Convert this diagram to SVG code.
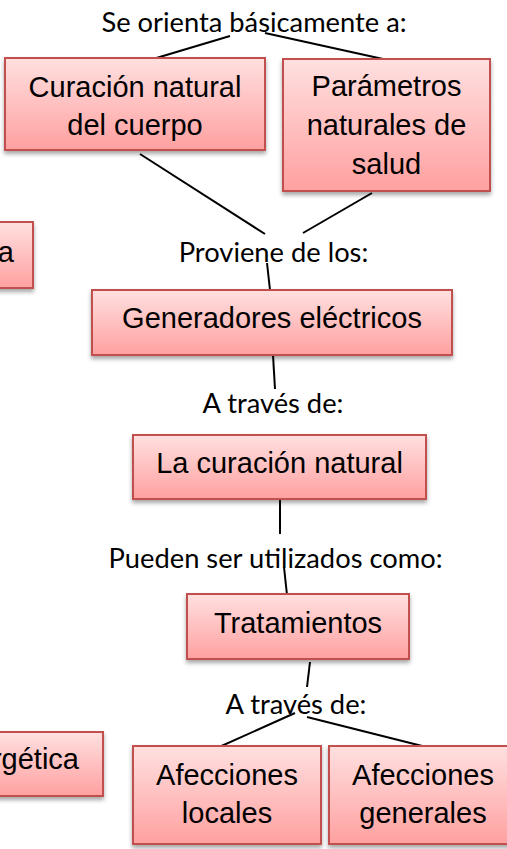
<svg xmlns="http://www.w3.org/2000/svg" width="507" height="849" viewBox="0 0 507 849">
<defs>
<linearGradient id="g" x1="0" y1="0" x2="0" y2="1">
<stop offset="0" stop-color="#FFE0E0"/>
<stop offset="1" stop-color="#FFA0A0"/>
</linearGradient>
<filter id="sh" x="-10%" y="-10%" width="120%" height="130%">
<feDropShadow dx="0" dy="3" stdDeviation="2" flood-color="#000" flood-opacity="0.35"/>
</filter>
</defs>
<style>
.box{fill:url(#g);stroke:#C0504D;stroke-width:2;filter:url(#sh)}
.bt{font-family:"Liberation Sans",Arial,sans-serif;font-size:29px;fill:#000;text-anchor:middle}
.lb{font-family:Lato,"Open Sans",sans-serif;font-size:27.3px;fill:#000;text-anchor:middle}
.cn line{stroke:#000;stroke-width:2}
</style>
<rect width="507" height="849" fill="#fff"/>
<g class="cn" id="connectors">
<line x1="230" y1="36" x2="153" y2="59"/>
<line x1="265" y1="33" x2="383" y2="59"/>
<line x1="140" y1="154" x2="265" y2="234"/>
<line x1="372" y1="193" x2="303" y2="233"/>
<line x1="267" y1="263" x2="270" y2="290"/>
<line x1="273" y1="355" x2="275" y2="389"/>
<line x1="280" y1="498" x2="280" y2="534"/>
<line x1="284" y1="567" x2="287" y2="595"/>
<line x1="310" y1="662" x2="307" y2="687"/>
<line x1="295" y1="713" x2="208" y2="752"/>
<line x1="307" y1="717" x2="442" y2="751"/>
</g>
<g id="lbl1"><text class="lb" x="254" y="32">Se orienta básicamente a:</text></g>
<g id="n1"><rect class="box" x="5" y="58" width="260" height="92"/>
<text class="bt" x="135" y="97">Curación natural</text><text class="bt" x="135" y="135">del cuerpo</text></g>
<g id="n2"><rect class="box" x="283" y="59" width="207" height="132"/>
<text class="bt" x="386.5" y="96">Parámetros</text><text class="bt" x="386.5" y="135">naturales de</text><text class="bt" x="386.5" y="174">salud</text></g>
<g id="n3"><rect class="box" x="-20" y="222" width="53" height="66"/>
<text class="bt" x="14" y="262" style="text-anchor:end">a</text></g>
<g id="lbl2"><text class="lb" x="273.5" y="262">Proviene de los:</text></g>
<g id="n4"><rect class="box" x="92" y="290" width="360" height="65"/>
<text class="bt" x="272" y="328">Generadores eléctricos</text></g>
<g id="lbl3"><text class="lb" x="273" y="413">A través de:</text></g>
<g id="n5"><rect class="box" x="133" y="435" width="293" height="64"/>
<text class="bt" x="279.5" y="473">La curación natural</text></g>
<g id="lbl4"><text class="lb" x="275.5" y="568">Pueden ser utilizados como:</text></g>
<g id="n6"><rect class="box" x="187" y="594" width="222" height="65"/>
<text class="bt" x="298" y="633">Tratamientos</text></g>
<g id="lbl5"><text class="lb" x="296" y="714">A través de:</text></g>
<g id="n7"><rect class="box" x="-20" y="732" width="123" height="64"/>
<text class="bt" x="79" y="769" style="text-anchor:end">rgética</text></g>
<g id="n8"><rect class="box" x="133" y="746" width="188" height="98"/>
<text class="bt" x="227" y="785">Afecciones</text><text class="bt" x="227" y="823">locales</text></g>
<g id="n9"><rect class="box" x="329" y="746" width="190" height="98"/>
<text class="bt" x="423" y="785">Afecciones</text><text class="bt" x="423" y="823">generales</text></g>
</svg>
